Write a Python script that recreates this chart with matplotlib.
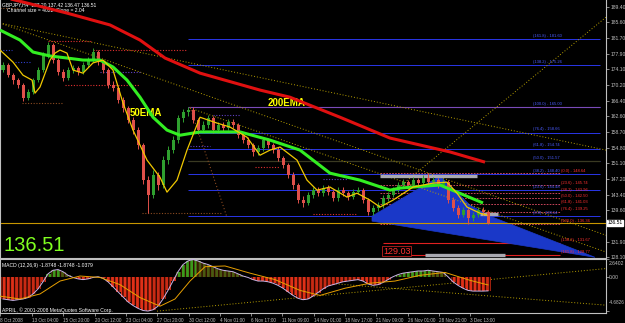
import matplotlib.pyplot as plt
from matplotlib.patches import Polygon

# ---- price bars (GBPJPY H4), one bar per slot ----
first_open = 174.0
closes = [175.17, 172.73, 171.5, 170.28, 167.09, 168.56, 171.5, 173.95, 177.63, 180.08,
          176.4, 173.46, 171.99, 173.95, 174.44, 173.46, 175.17, 176.4, 178.36, 175.91,
          173.95, 170.28, 169.54, 166.6, 164.64, 161.7, 159.25, 155.58, 147.0, 143.33,
          148.23, 145.78, 151.9, 154.35, 156.8, 162.19, 163.66, 164.15, 161.7, 159.25,
          160.48, 162.19, 159.25, 160.48, 159.74, 161.21, 160.48, 158.03, 156.8, 155.58,
          153.86, 154.84, 156.8, 155.58, 154.35, 152.39, 150.68, 148.23, 145.78, 142.1,
          141.37, 143.33, 144.55, 143.82, 145.04, 144.06, 142.59, 144.55, 143.82, 142.84,
          144.06, 144.55, 142.1, 139.16, 140.14, 140.88, 142.59, 143.33, 144.55, 145.78,
          146.51, 145.78, 147.0, 146.27, 147.49, 146.51, 147.0, 145.78, 146.51, 142.1,
          140.14, 138.43, 139.65, 137.69, 138.43, 139.65, 139.16, 136.51]
highs = [176.0, 175.8, 173.3, 172.0, 170.8, 169.2, 172.1, 174.6, 178.3, 180.9,
         180.5, 177.0, 174.2, 174.6, 175.3, 175.0, 175.9, 177.1, 179.3, 178.9,
         176.5, 174.5, 171.2, 170.1, 167.3, 165.2, 162.5, 160.0, 156.2, 148.0,
         149.4, 149.0, 152.8, 155.3, 157.8, 163.0, 164.5, 165.0, 164.8, 162.3,
         161.4, 163.0, 162.8, 161.2, 161.3, 162.0, 161.9, 161.0, 158.7, 157.5,
         156.2, 155.6, 157.6, 157.4, 156.1, 155.0, 153.0, 151.3, 148.9, 146.4,
         143.0, 144.1, 145.3, 145.2, 145.8, 145.7, 144.7, 145.3, 145.2, 144.4,
         144.8, 145.4, 145.1, 142.7, 140.9, 141.7, 143.3, 144.1, 145.3, 146.5,
         147.3, 147.1, 147.8, 147.6, 148.3, 148.64, 147.7, 147.6, 147.2, 147.0,
         142.8, 140.8, 140.4, 140.2, 139.2, 140.3, 140.4, 139.8]
lows = [173.4, 172.2, 170.6, 169.5, 166.3, 166.5, 168.0, 171.0, 173.4, 177.0,
        175.8, 172.8, 171.2, 171.5, 173.2, 172.7, 172.9, 174.6, 175.9, 175.2,
        173.3, 169.6, 168.8, 165.9, 163.8, 160.9, 158.4, 154.6, 146.0, 138.9,
        142.5, 144.6, 145.0, 151.0, 153.6, 156.0, 161.3, 162.8, 160.9, 158.4,
        158.6, 159.8, 158.5, 158.6, 159.0, 159.2, 159.7, 157.3, 156.0, 154.8,
        153.0, 153.2, 154.2, 154.9, 153.7, 151.6, 149.9, 147.4, 144.9, 141.3,
        140.5, 140.8, 142.7, 143.1, 143.2, 143.4, 141.9, 142.0, 143.1, 142.1,
        142.3, 143.5, 141.4, 138.4, 138.5, 139.5, 140.2, 142.0, 142.8, 144.0,
        145.1, 145.1, 145.2, 145.6, 145.7, 145.9, 145.8, 145.1, 145.2, 141.4,
        139.5, 137.8, 137.9, 136.36, 137.0, 137.9, 138.5, 136.3]

# ---- moving averages, read at bar positions ----
ema200_x = [-0.6, 2.4, 12.8, 21.4, 27.4, 32.4, 39.4, 51.4, 57.4, 67.4, 77.4, 89.4, 96.4]
ema200 = [192.0, 191.1, 187.9, 185.0, 181.3, 176.9, 173.2, 169.05, 167.3, 162.4, 157.3,
          153.9, 151.4]
ema50_x = [-0.6, 3.4, 6.0, 9.4, 12.8, 16.0, 19.4, 22.0, 24.8, 27.4, 30.0, 32.8, 35.4,
           39.4, 47.4, 53.4, 59.4, 65.4, 71.4, 77.4, 79.4, 84.0, 87.4, 90.8, 96.0]
ema50 = [183.75, 181.3, 178.36, 177.4, 176.9, 176.4, 176.4, 174.7, 171.5, 167.3, 162.4,
         159.25, 158.0, 158.8, 158.8, 156.8, 154.35, 148.7, 147.0, 144.55, 145.04, 145.5,
         145.8, 144.06, 141.4]
ma_fast_x = [-0.6, 2.0, 4.0, 5.8, 6.4, 7.4, 9.4, 10.4, 11.4, 12.8, 14.0, 16.0, 18.0, 20.0,
             22.0, 24.0, 26.0, 28.8, 31.4, 32.8, 34.8, 36.8, 39.4, 42.8, 45.4, 48.8, 51.4,
             53.4, 55.4, 58.8, 60.8, 62.8, 65.4, 68.8, 70.8, 73.4, 75.4, 78.0, 82.0, 86.0,
             88.8, 90.8, 92.8, 95.4, 96.8]
ma_fast = [178.85, 175.9, 172.7, 171.5, 168.3, 169.8, 176.4, 178.1, 178.85, 178.1, 173.95,
           173.2, 175.7, 176.4, 173.95, 165.9, 159.25, 151.9, 147.7, 144.06, 147.0, 154.35,
           162.4, 160.97, 160.0, 157.5, 153.1, 154.35, 155.1, 151.9, 147.0, 144.55, 145.3,
           142.84, 143.8, 142.1, 140.4, 142.1, 145.3, 146.27, 146.5, 143.8, 140.4, 138.9, 138.4]

# ---- fibonacci sets ----
fib_blue = [138.14, 144.48, 148.40, 151.57, 154.74, 158.66, 165.00, 175.26, 181.60]
fib_blue_txt = ["(0.0) - 138.14", "(23.6) - 144.48", "(38.2) - 148.40", "(50.0) - 151.57",
                "(61.8) - 154.74", "(76.4) - 158.66", "(100.0) - 165.00", "(138.2) - 175.26",
                "(161.8) - 181.60"]
fib_red = [148.64, 145.74, 143.96, 142.50, 141.03, 139.25, 136.36, 131.67, 128.77]
fib_red_txt = ["(0.0) - 148.64", "(23.6) - 145.74", "(38.2) - 143.96", "(50.0) - 142.50",
               "(61.8) - 141.03", "(76.4) - 139.25", "(100.0) - 136.36", "(138.2) - 131.67",
               "(161.8) - 128.77"]

# dotted channel / trend lines: (x0, p0, x1, p1)
trendlines = [(-0.6, 185.47, 120.6, 133.5), (37.4, 164.64, 120.6, 129.4),
              (-0.6, 185.47, 120.6, 154.35), (79.4, 145.5, 120.6, 186.9)]
fan_line = (37.4, 164.9, 44.8, 137.9)

# short horizontal markers: (x0, x1, price, colour)
markers = [(-0.6, 3.4, 189.15, "#8a4a20"), (9.0, 17.8, 181.06, "#e03030"),
           (18.0, 36.8, 178.85, "#e03030"), (12.4, 27.4, 170.28, "#e03030"),
           (3.8, 12.0, 165.87, "#8a4a20"), (27.8, 43.8, 138.9, "#8a4a20"),
           (50.4, 55.4, 150.2, "#e03030"), (62.0, 70.8, 138.67, "#e03030"),
           (-0.6, 1.8, 178.85, "#3040d0"), (2.4, 5.4, 175.9, "#3040d0"),
           (19.4, 27.4, 173.5, "#6040c0"), (42.0, 47.4, 163.0, "#6040c0"),
           (37.4, 41.4, 155.3, "#6040c0"), (64.0, 69.0, 147.2, "#6040c0")]

wedge_x = [73.8, 87.4, 93.4, 97.4, 118.4, 73.8]
wedge_p = [138.18, 147.98, 140.88, 138.18, 128.1, 136.96]

last_price = 136.51
main_ticks = [189.40, 185.60, 181.70, 177.90, 174.10, 170.20, 166.40, 162.60, 158.70,
              154.80, 151.10, 147.20, 143.40, 139.60, 131.90, 128.10]

# ---- MACD ----
macd = [-3.0, -3.1, -3.2, -3.1, -3.0, -2.8, -2.3, -1.6, -0.6, 0.5,
        1.0, 1.1, 0.8, 0.3, 0.0, -0.2, -0.3, -0.2, 0.0, 0.1,
        -0.1, -0.6, -1.3, -2.0, -2.7, -3.4, -3.9, -4.3, -4.6, -4.68,
        -4.5, -4.0, -3.0, -1.8, -0.5, 0.8, 1.8, 2.3, 2.5, 2.3,
        2.0, 1.8, 1.5, 1.2, 1.0, 0.9, 0.8, 0.5, 0.2, 0.0,
        -0.3, -0.5, -0.5, -0.6, -0.8, -1.1, -1.5, -2.0, -2.5, -2.9,
        -3.1, -3.0, -2.6, -2.1, -1.6, -1.2, -1.0, -0.8, -0.6, -0.5,
        -0.4, -0.3, -0.5, -0.9, -1.1, -1.0, -0.7, -0.3, 0.1, 0.4,
        0.6, 0.7, 0.8, 0.9, 0.9, 1.0, 0.9, 0.8, 0.7, 0.1,
        -0.6, -1.1, -1.5, -1.8, -1.9, -1.9, -1.9, -1.87]
signal_x = [-0.6, 3.4, 7.4, 11.4, 15.4, 19.4, 23.4, 27.4, 31.4, 34.4, 37.4, 40.4, 44.4,
            49.4, 54.4, 59.4, 63.4, 68.4, 73.4, 78.4, 83.4, 88.4, 93.4, 97.0]
signal = [-2.6, -3.0, -2.3, -0.5, 0.2, 0.0, -1.0, -2.8, -4.0, -3.0, -0.5, 1.5, 1.6,
          0.6, -0.3, -1.8, -2.5, -1.5, -0.8, -0.5, 0.3, 0.7, -0.4, -1.04]
macd_lines = [(30.8, -4.69, 120.6, 1.24), (65.4, -0.83, 120.6, -3.86)]
macd_ticks = [2.6402, 0.0, -4.6826]
macd_tick_txt = ["2.6402", "0.00", "-4.6826"]

date_pos = [-0.6, 5.8, 12.06, 18.32, 24.58, 30.84, 37.1, 43.36, 49.62, 55.88, 62.14,
            68.4, 74.66, 80.92, 87.18, 93.44]
date_txt = ["8 Oct 2008", "13 Oct 04:00", "15 Oct 20:00", "20 Oct 12:00", "23 Oct 04:00",
            "27 Oct 20:00", "30 Oct 12:00", "4 Nov 01:00", "6 Nov 17:00", "11 Nov 09:00",
            "14 Nov 01:00", "18 Nov 17:00", "21 Nov 09:00", "26 Nov 01:00", "28 Nov 21:00",
            "3 Dec 13:00"]

plt.rcParams["font.family"] = ["Liberation Sans", "DejaVu Sans"]
GRID = "#c0c0c0"
XLIM = (-0.6, 120.6)
TICK_FS = 3.6

fig = plt.figure(figsize=(6.25, 3.23), dpi=100, facecolor="black")
ax = fig.add_axes([0, 1 - 257.5 / 323, 606 / 625, 257.5 / 323], facecolor="black")
am = fig.add_axes([0, 10 / 323, 606 / 625, 54.5 / 323], facecolor="black")

for a in (ax, am):
    a.set_xlim(*XLIM)
    a.spines["top"].set_visible(False)
    for s in ("left", "right", "bottom"):
        a.spines[s].set_color(GRID)
        a.spines[s].set_linewidth(0.8)
    a.yaxis.tick_right()
    a.tick_params(axis="y", colors=GRID, labelsize=TICK_FS, length=2, width=0.5, pad=1)
am.spines["top"].set_visible(True)
am.spines["top"].set_color(GRID)

ax.set_ylim(128.05, 191.11)
ax.set_xticks([])

# fib sets
ax.hlines(fib_blue, 37.0, 119.4, colors="#2a36e8", lw=0.7, zorder=1)
ax.hlines(fib_blue[3], 37.0, 119.4, colors="#3a3a22", lw=0.9, zorder=1)
ax.hlines(fib_blue[6], 37.0, 119.4, colors="#7a4ab8", lw=0.8, zorder=1)
for lv, t in zip(fib_blue, fib_blue_txt):
    ax.text(106.0, lv + 0.25, t, color="#4a5cff", fontsize=3.0, va="bottom", ha="left")
ax.hlines(fib_red[:7], 75.4, 111.4, colors="#e8506a", lw=0.6, linestyles=(0, (2, 1.5)), zorder=1)
ax.hlines(fib_red[7:], 76.0, 111.4, colors="#e02020", lw=0.8, zorder=1)
for lv, t in zip(fib_red, fib_red_txt):
    ax.text(111.6, lv + 0.15, t, color="#ff3030", fontsize=3.0, va="bottom", ha="left")

# blue wedge
ax.add_patch(Polygon(list(zip(wedge_x, wedge_p)), closed=True, facecolor="#1a38c8",
                     edgecolor="#1a38c8", lw=0.5, zorder=2))

# grey bars
ax.hlines(148.1, 75.4, 94.8, colors="#a8a8b0", lw=2.4, zorder=3)
ax.hlines(138.8, 95.4, 99.0, colors="#a8a8b0", lw=2.4, zorder=3)
ax.hlines(128.75, 84.4, 100.4, colors="#a8a8b0", lw=2.4, zorder=3)

# trend lines
for x0, p0, x1, p1 in trendlines:
    ax.plot([x0, x1], [p0, p1], color="#b8a000", lw=0.7, ls=(0, (1, 2)), zorder=2)
ax.plot(fan_line[::2], fan_line[1::2], color="#8a4a20", lw=0.8, ls=(0, (1, 2)), zorder=2)
for x0, x1, p, c in markers:
    ax.hlines(p, x0, x1, colors=c, lw=0.8, linestyles=(0, (1, 1.5)), zorder=2)

# price line
ax.axhline(last_price, color="#c89600", lw=0.8, zorder=2)

# candles
opens = [first_open] + closes[:-1]
for i, (o, h, l, c) in enumerate(zip(opens, highs, lows, closes)):
    col = "#2fa02f" if c >= o else "#e0504a"
    ax.vlines(i, l, h, colors=col, lw=0.7, zorder=4)
    ax.bar(i, max(abs(c - o), 0.15), bottom=min(o, c), width=0.6, color=col, lw=0, zorder=4)

# moving averages
ax.plot(ema200_x, ema200, color="#e01010", lw=2.2, zorder=5, solid_capstyle="butt")
ax.plot(ema50_x, ema50, color="#33ee22", lw=2.2, zorder=5, solid_capstyle="butt")
ax.plot(ma_fast_x, ma_fast, color="#f0c800", lw=0.9, zorder=5)

# texts
ax.text(25.4, 163.4, "50EMA", color="#ffff00", fontsize=7, fontweight="bold", va="center")
ax.text(53.0, 165.9, "200EMA", color="#ffff00", fontsize=7, fontweight="bold", va="center")
ax.text(0.005, 0.045, "136.51", transform=ax.transAxes, color="#80ff20", fontsize=14.5,
        va="center", ha="left")
ax.text(76.0, 129.6, "129.03", color="#ff3030", fontsize=6.5, va="center", ha="left",
        bbox=dict(facecolor="black", edgecolor="#c02020", lw=0.6, pad=0.6))
ax.text(0.004, 0.982, "GBPJPY,H4  137.20 137.42 136.47 136.51", transform=ax.transAxes,
        color="white", fontsize=3.6, va="center")
ax.text(0.012, 0.958, "Channel size = 4022  Slope = 2.04", transform=ax.transAxes,
        color="white", fontsize=3.6, va="center")

ax.set_yticks(main_ticks)
ax.set_yticklabels([f"{v:.2f}" for v in main_ticks])
ax.text(1.003, last_price, f"{last_price:.2f}", transform=ax.get_yaxis_transform(),
        color="black", fontsize=TICK_FS, va="center", ha="left",
        bbox=dict(facecolor="white", edgecolor="white", pad=0.3))

# MACD panel
am.set_ylim(-4.95, 2.64)
for i, v in enumerate(macd):
    prev = macd[i - 1] if i else v
    if v >= 0:
        col = "#3c9a1c" if v >= prev else "#4a5a10"
    else:
        col = "#e03018" if v <= prev else "#c82a14"
    am.bar(i, v, width=1.0, color=col, lw=0, hatch="||||", edgecolor="#300800", zorder=2)
am.plot(range(len(macd)), macd, color="#c8b4e6", lw=0.7, zorder=3)
am.plot(signal_x, signal, color="#e8a000", lw=0.7, zorder=3)
for x0, p0, x1, p1 in macd_lines:
    am.plot([x0, x1], [p0, p1], color="#b8a000", lw=0.7, ls=(0, (1, 2)), zorder=1)

# scale marks at the values; max/min labels kept inside the panel like the terminal
am.set_yticks(macd_ticks)
am.set_yticklabels([])
am.text(1.004, 0.915, macd_tick_txt[0], transform=am.transAxes, color=GRID,
        fontsize=TICK_FS, va="center", ha="left")
am.text(1.004, macd_ticks[1], macd_tick_txt[1], transform=am.get_yaxis_transform(),
        color=GRID, fontsize=TICK_FS, va="center", ha="left")
am.text(1.004, 0.2, macd_tick_txt[2], transform=am.transAxes, color=GRID,
        fontsize=3.3, va="center", ha="left")

am.text(0.004, 0.87, "MACD (12,26,9) -1.8748 -1.8748 -1.0379", transform=am.transAxes,
        color="white", fontsize=3.6, va="center")
am.text(0.004, 0.06, "APRIL, © 2001-2008 MetaQuotes Software Corp.", transform=am.transAxes,
        color="white", fontsize=3.6, va="center")
am.set_xticks(date_pos)
am.set_xticklabels(date_txt, ha="left")
am.tick_params(axis="x", colors=GRID, labelsize=3.3, length=2, width=0.5, pad=1.5)

fig.savefig("out.png", dpi=100, facecolor="black")
